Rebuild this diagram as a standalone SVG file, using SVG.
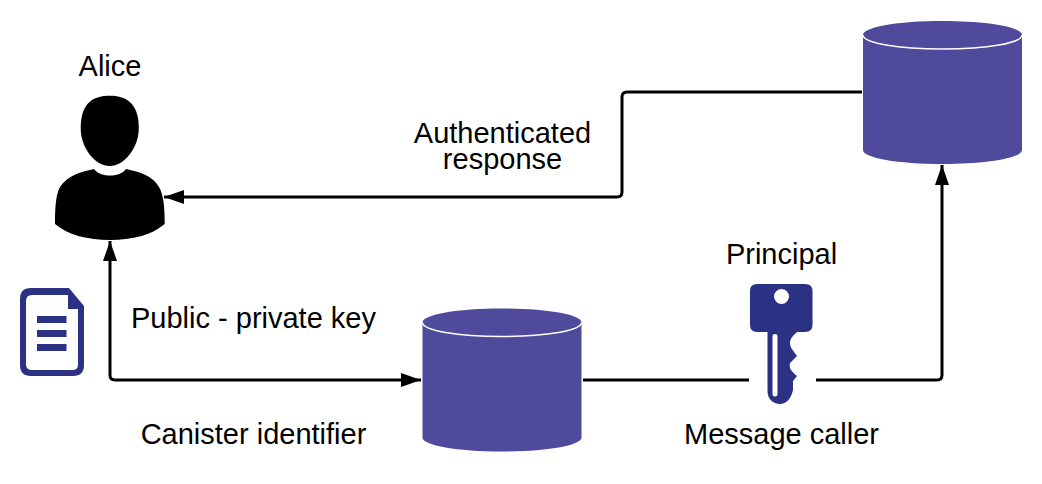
<svg xmlns="http://www.w3.org/2000/svg" width="1042" height="484" viewBox="0 0 1042 484">
  <style>
    text { font-family: "Liberation Sans", Arial, sans-serif; font-size: 29px; fill: #000; text-anchor: middle; }
    .conn { fill: none; stroke: #000; stroke-width: 3; stroke-linejoin: round; }
    .cyl { fill: #4f4a9b; }
    .rim { fill: none; stroke: #fff; stroke-width: 1.5; }
    .navy { fill: #2b3183; }
  </style>
  <defs>
    <marker id="arrow" markerUnits="userSpaceOnUse" markerWidth="22" markerHeight="18" refX="20" refY="9" orient="auto-start-reverse">
      <path d="M0 2 L20 9 L0 16 Z" fill="#000"/>
    </marker>
    <g id="cylinder">
      <path class="cyl" d="M0 14 C0 6 35 0 79.500 0 C124 0 159 6 159 14 V129 C159 137 124 143 79.500 143 C35 143 0 137 0 129 Z"/>
      <path class="rim" d="M0 14 C0 22 35 28 79.500 28 C124 28 159 22 159 14"/>
    </g>
  </defs>

  <g id="connectors">
    <path class="conn" marker-end="url(#arrow)" d="M862 92 H627 Q622 92 622 97 V192 Q622 197 617 197 H164"/>
    <path class="conn" marker-start="url(#arrow)" marker-end="url(#arrow)" d="M110 241 V375 Q110 380 115 380 H421"/>
    <path class="conn" d="M583 380 H749"/>
    <path class="conn" marker-end="url(#arrow)" d="M816 380 H937 Q942 380 942 375 V165"/>
  </g>

  <g id="alice">
    <path fill="#000" d="M109.700 95.700 C125 95.700 138.800 102 138.800 128 C138.800 148 124 166 109.700 166 C95 166 80.700 148 80.700 128 C80.700 102 94 95.700 109.700 95.700 Z"/>
    <path fill="#000" d="M94 169 C98 174 104 175.500 110 175.500 C116 175.500 122 174 126 169 C140 172 153 176 159 187 C164 195 164.700 210 164.700 224 C152 235 132 240 110 240 C88 240 68 235 55 224 C55 210 55.500 195 60 187 C67 176 80 172 94 169 Z"/>
    <text x="110" y="76">Alice</text>
  </g>

  <g id="document">
    <path class="navy" fill-rule="evenodd" d="M31 288 H69 L84 306 V365 Q84 376 73 376 H31 Q20 376 20 365 V299 Q20 288 31 288 Z M32 295 Q26 295 26 301 V364 Q26 370 32 370 H73 Q78 370 78 364 V309 H68 V295 Z"/>
    <rect class="navy" x="37" y="316" width="29.500" height="7"/>
    <rect class="navy" x="37" y="330" width="29.500" height="7"/>
    <rect class="navy" x="37" y="344" width="29.500" height="7"/>
  </g>

  <g id="canister-a">
    <use href="#cylinder" x="422.500" y="308.500"/>
  </g>
  <g id="canister-b">
    <use href="#cylinder" x="863" y="21"/>
  </g>

  <g id="principal-key">
    <path class="navy" fill-rule="evenodd" d="M757 284 H805 Q812.500 284 812.500 291 V325 Q812.500 332 805 332 H797 C794 335 790 338 790 343 C790 348 793 350 797 356 L790 363 C789 367 790 370 797 376 L793 381 V390 C791 399 786 404 780 404 C773 404 767.500 399 767.500 391 V332 H757 Q750 332 750 325 V291 Q750 284 757 284 Z M781.500 289 A7.500 7.500 0 1 0 781.500 304 A7.500 7.500 0 1 0 781.500 289 Z M772.500 336 V394 Q772.500 396.500 775 396.500 Q777.500 396.500 777.500 394 V336 Q777.500 334 775 334 Q772.500 334 772.500 336 Z"/>
    <text x="781.500" y="264">Principal</text>
  </g>

  <g id="labels">
    <text x="502.500" y="143">Authenticated</text>
    <text x="502.500" y="169">response</text>
    <text x="253.500" y="328">Public - private key</text>
    <text x="253.500" y="444">Canister identifier</text>
    <text x="781.500" y="444">Message caller</text>
  </g>
</svg>
